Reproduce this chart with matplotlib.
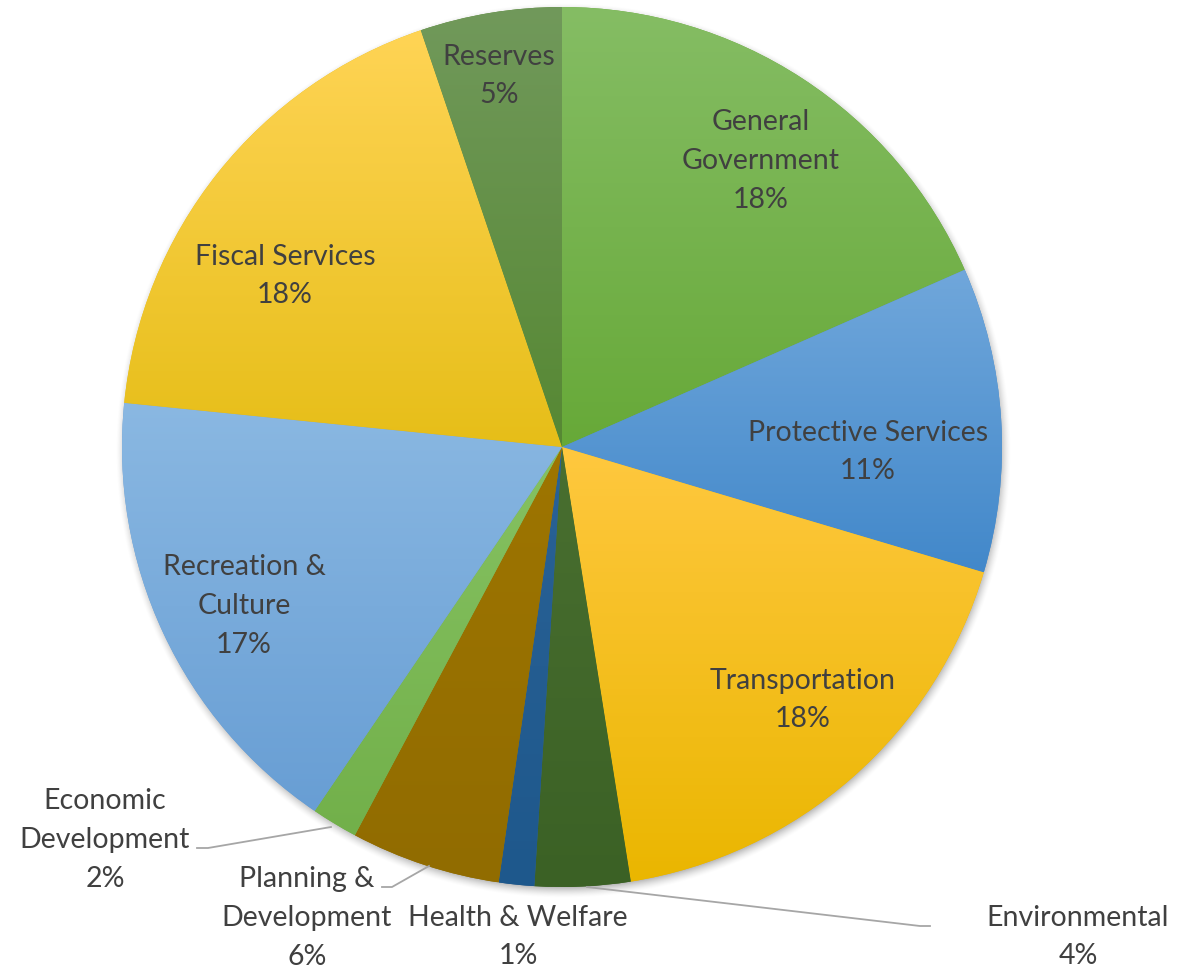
import numpy as np
import matplotlib
matplotlib.use("Agg")
import matplotlib.pyplot as plt
from matplotlib.colors import to_rgb

plt.rcParams['font.family'] = ['Lato', 'DejaVu Sans']

# budget share by function (percent), clockwise from 12 o'clock
categories = ["General\nGovernment", "Protective Services", "Transportation",
              "Environmental", "Health & Welfare", "Planning &\nDevelopment",
              "Economic\nDevelopment", "Recreation &\nCulture", "Fiscal Services",
              "Reserves"]
shares = [18.4, 11.2, 17.9, 3.5, 1.3, 5.5, 1.7, 17.1, 18.2, 5.2]

# light (top) / dark (bottom) gradient colours per slice
top_colors = ["#85bd64", "#70a7db", "#ffc83f", "#496f30", "#2a6296",
              "#9e7500", "#86c262", "#8ab8e2", "#ffd455", "#71995b"]
bottom_colors = ["#67a938", "#4288ca", "#eab600", "#3b6125", "#1e588c",
                 "#916c00", "#72b04a", "#689ed4", "#e6be18", "#568833"]

# label anchor points in pixels (x, y from top)
label_xy = [(761, 161), (868, 452), (803, 700), (1078, 937), (518, 937),
            (307, 918), (105, 840), (244, 606), (285, 276), (499, 76)]
# leader lines for the labels pushed outside the pie
leaders = {3: [(587, 887), (920, 926), (930, 926)],
           5: [(429, 866), (392, 887), (382, 887)],
           6: [(331, 827), (208, 848), (197, 848)]}

W, H = 1202, 974
cx, cy, R = 562, 447, 440

fig = plt.figure(figsize=(W / 100, H / 100), dpi=100)
ax = fig.add_axes([0, 0, 1, 1])

# soft shadow under the pie
sx, sy = cx + 1, H - cy - 3
ext = R + 20
gx, gy = np.meshgrid(np.arange(sx - ext, sx + ext), np.arange(sy + ext, sy - ext, -1))
d = np.hypot(gx - sx, gy - sy)
t = np.clip((R + 8 - d) / 14.0, 0, 1)
shadow = np.zeros(d.shape + (4,))
shadow[..., 3] = 0.38 * t ** 1.6
ax.imshow(shadow, extent=(sx - ext, sx + ext, sy - ext, sy + ext),
          origin="upper", aspect="auto", zorder=0, interpolation="bilinear")

wedges, _ = ax.pie(shares, startangle=90, counterclock=False, radius=R,
                   center=(cx, H - cy), colors=bottom_colors,
                   wedgeprops=dict(linewidth=0), frame=True)
ax.set_aspect("auto")
ax.axis("off")

# vertical gradient fill inside each wedge
ramp = np.linspace(0, 1, 256)[:, None, None]
for w, c0, c1 in zip(wedges, top_colors, bottom_colors):
    w.set_zorder(1)
    bb = w.get_path().get_extents()
    img = (1 - ramp) * np.array(to_rgb(c0)) + ramp * np.array(to_rgb(c1))
    img = np.repeat(img, 2, axis=1)
    im = ax.imshow(img, extent=(bb.x0, bb.x1, bb.y0, bb.y1), origin="upper",
                   aspect="auto", interpolation="bilinear", zorder=2)
    im.set_clip_path(w)

for name, v, (lx, ly) in zip(categories, shares, label_xy):
    ax.text(lx, H - ly, f"{name}\n{int(v + 0.5)}%", ha="center", va="center",
            fontsize=20.5, color="#404040", linespacing=1.6, zorder=5)

for pts in leaders.values():
    xs = [p[0] for p in pts]
    ys = [H - p[1] for p in pts]
    ax.plot(xs, ys, color="#a6a6a6", lw=1.3, zorder=4)

ax.set_xlim(0, W)
ax.set_ylim(0, H)
fig.savefig("out.png", dpi=100)
